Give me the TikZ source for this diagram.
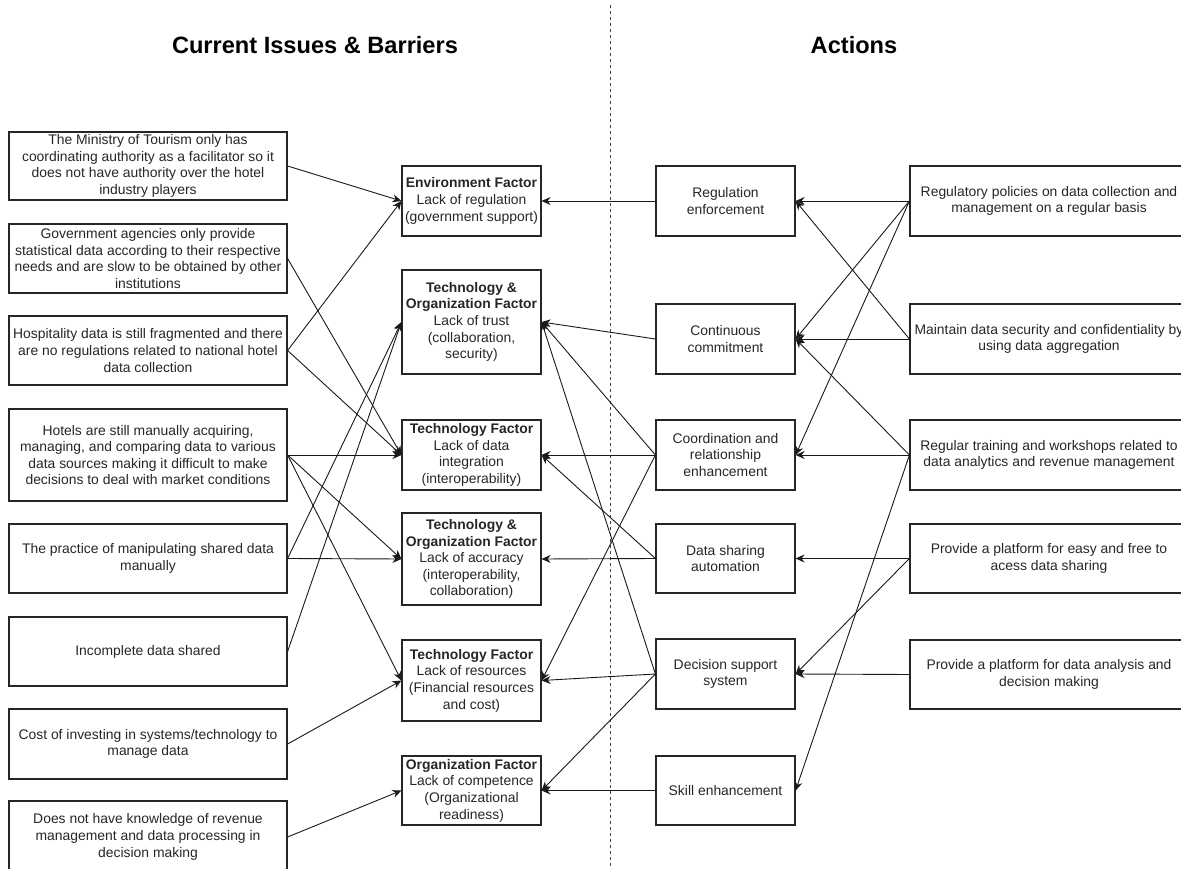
\documentclass[tikz,border=0pt]{standalone}
\usepackage{fontspec}
\setmainfont{Liberation Sans}
\usetikzlibrary{arrows.meta}
\begin{document}
\begin{tikzpicture}[x=1pt,y=-1pt,
  every node/.style={font=\fontsize{13.9pt}{16.6pt}\selectfont, text=black!85},
  box/.style={draw=black!85, line width=1.2pt, inner sep=0pt, align=center},
  issue/.style={box, minimum width=278pt},
  factor/.style={box, minimum width=139pt},
  action/.style={box, minimum width=139pt},
  measure/.style={box, minimum width=278pt},
  link/.style={line width=0.9pt, draw=black!90, -{Stealth[length=9pt,width=8pt,inset=3pt]}},
  heading/.style={font=\fontsize{23.6pt}{28pt}\selectfont\bfseries, text=black, anchor=base},
  divider/.style={line width=0.9pt, draw=black!75, dash pattern=on 3pt off 3pt}
]
\useasboundingbox (0,0) rectangle (1181,869);

% column headings and divider
\node[heading] (h1) at (315,53.3) {Current Issues \& Barriers};
\node[heading] (h2) at (854,53.3) {Actions};
\coordinate (dtop) at (610,5);
\coordinate (dbot) at (610,869);
\draw[divider] (dtop) -- (dbot);

% issues and barriers
\node[issue, minimum height=68pt] (L1) at (148,166) {The Ministry of Tourism only has\\coordinating authority as a facilitator so it\\does not have authority over the hotel\\industry players};
\node[issue, minimum height=69pt] (L2) at (148,258.5) {Government agencies only provide\\statistical data according to their respective\\needs and are slow to be obtained by other\\institutions};
\node[issue, minimum height=69pt] (L3) at (148,350.5) {Hospitality data is still fragmented and there\\are no regulations related to national hotel\\data collection};
\node[issue, minimum height=92pt] (L4) at (148,455) {Hotels are still manually acquiring,\\managing, and comparing data to various\\data sources making it difficult to make\\decisions to deal with market conditions};
\node[issue, minimum height=69pt] (L5) at (148,558.5) {The practice of manipulating shared data\\manually};
\node[issue, minimum height=69pt] (L6) at (148,651.5) {Incomplete data shared};
\node[issue, minimum height=70pt] (L7) at (148,744) {Cost of investing in systems/technology to\\manage data};
\node[issue, minimum height=72pt] (L8) at (148,837) {Does not have knowledge of revenue\\management and data processing in\\decision making};

% factors
\node[factor, minimum height=70pt] (M1) at (471.5,201) {\textbf{Environment Factor}\\Lack of regulation\\(government support)};
\node[factor, minimum height=104pt] (M2) at (471.5,322) {\textbf{Technology \&}\\\textbf{Organization Factor}\\Lack of trust\\(collaboration,\\security)};
\node[factor, minimum height=70pt] (M3) at (471.5,455) {\textbf{Technology Factor}\\Lack of data\\integration\\(interoperability)};
\node[factor, minimum height=92pt] (M4) at (471.5,559) {\textbf{Technology \&}\\\textbf{Organization Factor}\\Lack of accuracy\\(interoperability,\\collaboration)};
\node[factor, minimum height=81pt] (M5) at (471.5,680.5) {\textbf{Technology Factor}\\Lack of resources\\(Financial resources\\and cost)};
\node[factor, minimum height=69pt] (M6) at (471.5,790.5) {\textbf{Organization Factor}\\Lack of competence\\(Organizational\\readiness)};

% actions
\node[action, minimum height=70pt] (A1) at (725.5,201) {Regulation\\enforcement};
\node[action, minimum height=70pt] (A2) at (725.5,339) {Continuous\\commitment};
\node[action, minimum height=70pt] (A3) at (725.5,455) {Coordination and\\relationship\\enhancement};
\node[action, minimum height=69pt] (A4) at (725.5,558.5) {Data sharing\\automation};
\node[action, minimum height=70pt] (A5) at (725.5,674) {Decision support\\system};
\node[action, minimum height=69pt] (A6) at (725.5,790.5) {Skill enhancement};

% supporting measures
\node[measure, minimum height=70pt] (R1) at (1049,201) {Regulatory policies on data collection and\\management on a regular basis};
\node[measure, minimum height=70pt] (R2) at (1049,339) {Maintain data security and confidentiality by\\using data aggregation};
\node[measure, minimum height=70pt] (R3) at (1049,455) {Regular training and workshops related to\\data analytics and revenue management};
\node[measure, minimum height=69pt] (R4) at (1049,558.5) {Provide a platform for easy and free to\\acess data sharing};
\node[measure, minimum height=69pt] (R5) at (1049,674.5) {Provide a platform for data analysis and\\decision making};

% issues -> factors
\draw[link] (L1.east) -- (M1.west);
\draw[link] (L2.east) -- (M3.west);
\draw[link] (L3.east) -- (M1.west);
\draw[link] (L3.east) -- (M3.west);
\draw[link] (L4.east) -- (M3.west);
\draw[link] (L4.east) -- (M4.west);
\draw[link] (L4.east) -- (M5.west);
\draw[link] (L5.east) -- (M4.west);
\draw[link] (L5.east) -- (M2.west);
\draw[link] (L6.east) -- (M2.west);
\draw[link] (L7.east) -- (M5.west);
\draw[link] (L8.east) -- (M6.west);

% actions -> factors
\draw[link] (A1.west) -- (M1.east);
\draw[link] (A2.west) -- (M2.east);
\draw[link] (A3.west) -- (M2.east);
\draw[link] (A5.west) -- (M2.east);
\draw[link] (A3.west) -- (M3.east);
\draw[link] (A4.west) -- (M3.east);
\draw[link] (A4.west) -- (M4.east);
\draw[link] (A3.west) -- (M5.east);
\draw[link] (A5.west) -- (M5.east);
\draw[link] (A5.west) -- (M6.east);
\draw[link] (A6.west) -- (M6.east);

% measures -> actions
\draw[link] (R1.west) -- (A1.east);
\draw[link] (R1.west) -- (A2.east);
\draw[link] (R1.west) -- (A3.east);
\draw[link] (R2.west) -- (A1.east);
\draw[link] (R2.west) -- (A2.east);
\draw[link] (R3.west) -- (A2.east);
\draw[link] (R3.west) -- (A3.east);
\draw[link] (R3.west) -- (A6.east);
\draw[link] (R4.west) -- (A4.east);
\draw[link] (R4.west) -- (A5.east);
\draw[link] (R5.west) -- (A5.east);
\end{tikzpicture}
\end{document}
